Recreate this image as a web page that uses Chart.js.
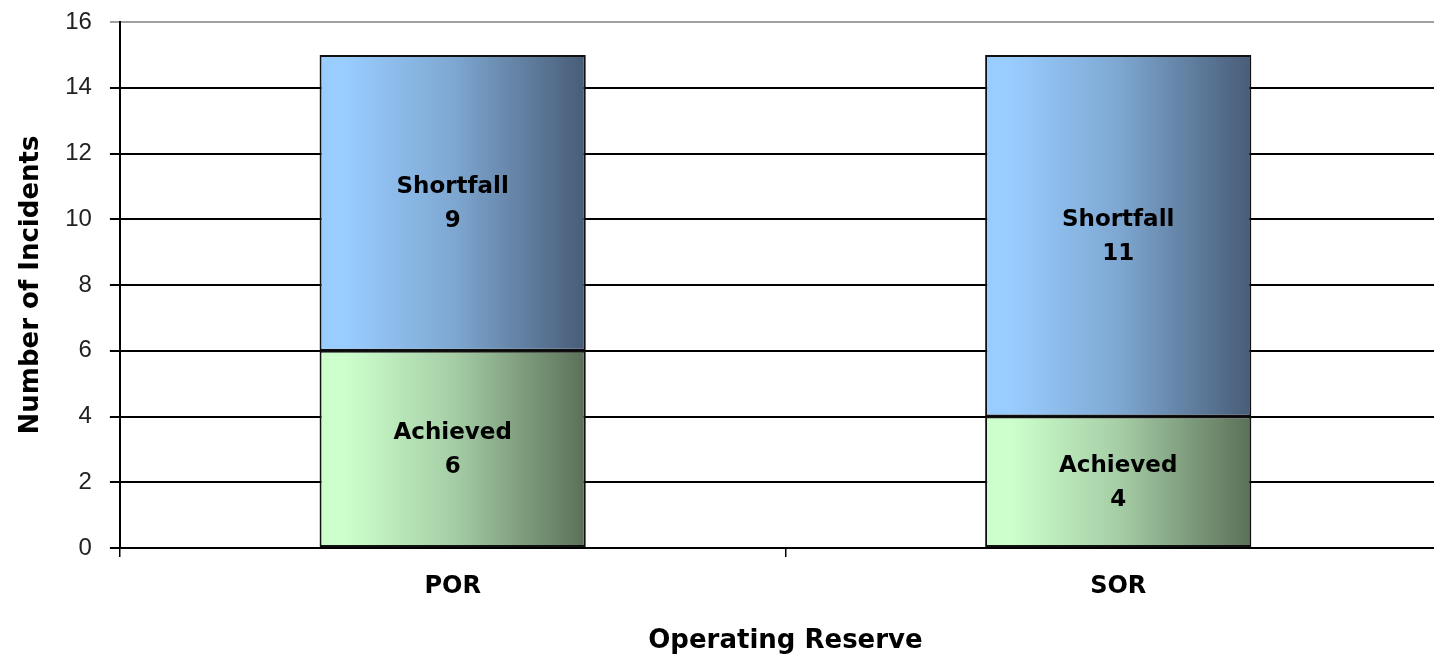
<!DOCTYPE html>
<html>
<head>
<meta charset="utf-8">
<script src="https://cdn.jsdelivr.net/npm/chart.js@4"></script>
<style>
  html, body { margin: 0; padding: 0; background: #fff; overflow: hidden; }
  #wrap { position: relative; width: 1460px; height: 657px; }
</style>
</head>
<body>
<div id="wrap"><canvas id="barChart"></canvas></div>
<script>
var categories = ['POR', 'SOR'];
var achieved = [6, 4];
var shortfall = [9, 11];
var yTicks = [0, 2, 4, 6, 8, 10, 12, 14, 16];

// horizontal gradient per bar, light on the left, dark on the right
function barGradient(light, mid, dark) {
    return function (c) {
        var chart = c.chart;
        if (!chart.chartArea || c.dataIndex === undefined) return light;
        var x = chart.scales.x;
        var cw = x.width / categories.length;
        var cx = x.getPixelForValue(c.dataIndex);
        var half = cw * 0.4 / 2;
        var g = chart.ctx.createLinearGradient(cx - half, 0, cx + half, 0);
        g.addColorStop(0, light);
        g.addColorStop(0.1, light);
        g.addColorStop(0.5, mid);
        g.addColorStop(1, dark);
        return g;
    };
}

var segmentLabels = {
    id: 'segmentLabels',
    afterDatasetsDraw: function (chart) {
        var ctx = chart.ctx;
        ctx.save();
        ctx.fillStyle = '#000';
        ctx.font = 'bold 23px "DejaVu Sans"';
        ctx.textAlign = 'center';
        ctx.textBaseline = 'middle';
        chart.data.datasets.forEach(function (ds, i) {
            var meta = chart.getDatasetMeta(i);
            meta.data.forEach(function (bar, j) {
                var cy = (bar.y + bar.base) / 2;
                ctx.fillText(ds.label, bar.x, cy - 16);
                ctx.fillText(String(ds.data[j]), bar.x, cy + 18);
            });
        });
        ctx.restore();
    }
};

var ctx = document.getElementById('barChart').getContext('2d');
var chart = new Chart(ctx, {
    type: 'bar',
    data: {
        labels: categories,
        datasets: [{
            label: 'Achieved',
            data: achieved,
            backgroundColor: barGradient('#ccffcc', '#a6cea6', '#5a7058'),
            borderColor: '#111',
            borderWidth: 2,
            borderSkipped: false
        }, {
            label: 'Shortfall',
            data: shortfall,
            backgroundColor: barGradient('#99ccff', '#7ea8d2', '#485c76'),
            borderColor: '#111',
            borderWidth: 2,
            borderSkipped: false
        }]
    },
    options: {
        responsive: true,
        maintainAspectRatio: false,
        animation: false,
        layout: { padding: { top: 22, right: 9, bottom: 0, left: 4 } },
        datasets: { bar: { barPercentage: 0.4, categoryPercentage: 1 } },
        plugins: {
            legend: { display: false },
            tooltip: { enabled: false }
        },
        scales: {
            x: {
                stacked: true,
                grid: { drawOnChartArea: false, drawTicks: true, tickLength: 9, color: '#000', lineWidth: 1.5, offset: true },
                border: { color: '#000', width: 2 },
                ticks: { color: '#000', font: { family: 'DejaVu Sans', size: 24, weight: 'bold' }, padding: 15 },
                title: { display: true, text: 'Operating Reserve', color: '#000', font: { family: 'DejaVu Sans', size: 26, weight: 'bold' }, padding: { top: 10, bottom: 0 } }
            },
            y: {
                stacked: true,
                min: 0,
                max: 16,
                afterBuildTicks: function (axis) {
                    axis.ticks = yTicks.map(function (v) { return { value: v }; });
                },
                afterFit: function (axis) {
                    axis.paddingTop = 10;
                    axis.paddingBottom = 10;
                },
                grid: {
                    color: function (c) { return c.tick && c.tick.value === 16 ? '#a0a0a0' : '#000'; },
                    lineWidth: 2,
                    tickLength: 10
                },
                border: { color: '#000', width: 2 },
                ticks: { color: '#222', font: { family: 'Liberation Sans', size: 24 }, padding: 18 },
                title: { display: true, text: 'Number of Incidents', color: '#000', font: { family: 'DejaVu Sans', size: 26, weight: 'bold' }, padding: { top: 12, bottom: 0 } }
            }
        }
    },
    plugins: [segmentLabels]
});
</script>
</body>
</html>
